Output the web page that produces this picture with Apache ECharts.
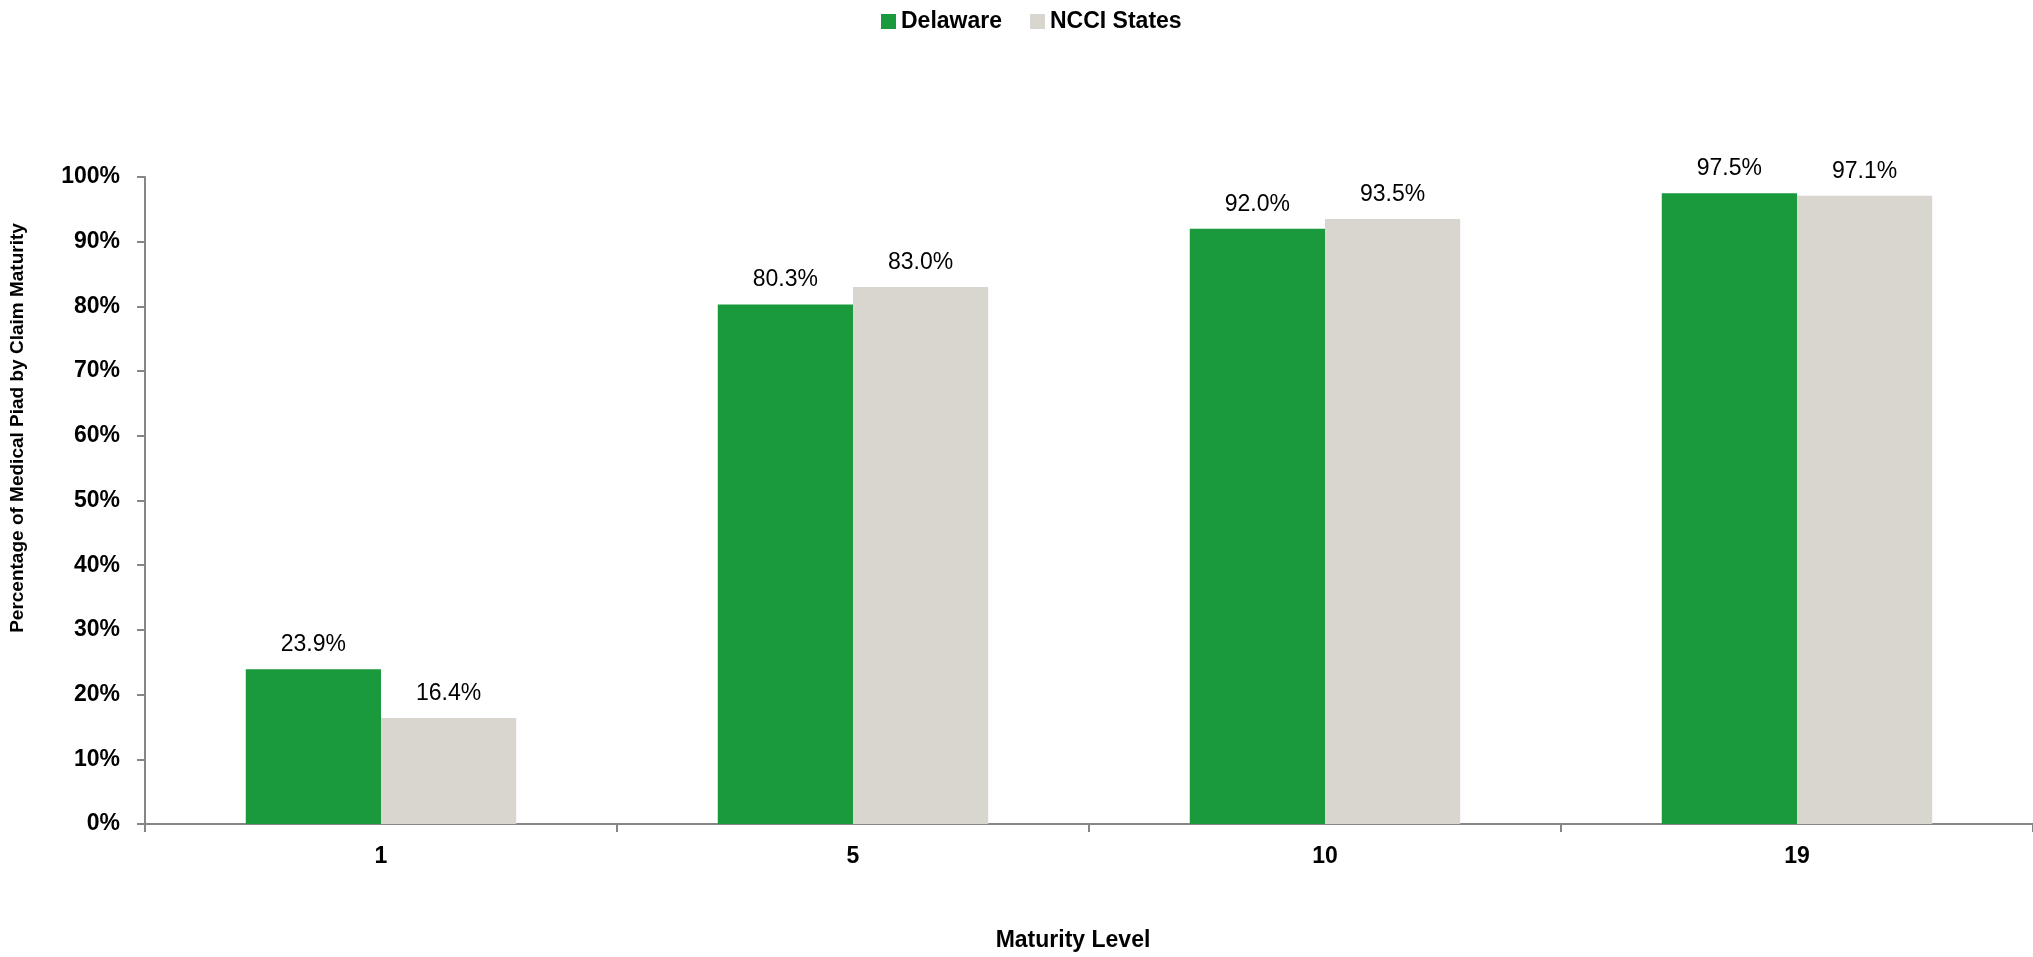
<!DOCTYPE html>
<html>
<head>
<meta charset="utf-8">
<script src="https://cdn.jsdelivr.net/npm/echarts@6/dist/echarts.min.js"></script>
<style>
html,body{margin:0;padding:0;background:#fff;}
#chart{width:2033px;height:957px;}
</style>
</head>
<body>
<div id="chart"></div>
<script>
const categories = ['1', '5', '10', '19'];
const delaware = [23.9, 80.3, 92.0, 97.5];
const nccis = [16.4, 83.0, 93.5, 97.1];
const seriesNames = ['Delaware', 'NCCI States'];
const yTicks = [0, 10, 20, 30, 40, 50, 60, 70, 80, 90, 100];

const FONT = '"Liberation Sans", Arial, sans-serif';
const chart = echarts.init(document.getElementById('chart'), null, {renderer: 'canvas'});

const labelStyle = {
  show: true,
  position: 'top',
  distance: 13,
  fontFamily: FONT,
  fontSize: 23,
  color: '#000',
  formatter: p => p.value.toFixed(1) + '%'
};

chart.setOption({
  animation: false,
  backgroundColor: '#fff',
  legend: {
    top: 5,
    left: 876,
    itemWidth: 15,
    itemHeight: 15,
    itemGap: 28,
    icon: 'rect',
    textStyle: {fontFamily: FONT, fontSize: 23, fontWeight: 'bold', color: '#000'},
    data: seriesNames
  },
  grid: {left: 145, right: -6, top: 177, bottom: 133, containLabel: false},
  xAxis: {
    type: 'category',
    data: categories,
    axisLine: {lineStyle: {color: '#868686', width: 2}},
    axisTick: {show: true, length: 8, alignWithLabel: false, lineStyle: {color: '#868686', width: 2}},
    axisLabel: {fontFamily: FONT, fontSize: 23, fontWeight: 'bold', color: '#000', margin: 21}
  },
  yAxis: {
    type: 'value',
    min: yTicks[0],
    max: yTicks[yTicks.length - 1],
    interval: 10,
    splitLine: {show: false},
    axisLine: {show: true, lineStyle: {color: '#868686', width: 2}},
    axisTick: {show: true, length: 8, lineStyle: {color: '#868686', width: 2}},
    axisLabel: {fontFamily: FONT, fontSize: 23, fontWeight: 'bold', color: '#000', margin: 25, formatter: v => v + '%'}
  },
  graphic: [
    {
      type: 'text',
      x: 18,
      y: 428,
      rotation: Math.PI / 2,
      style: {
        text: 'Percentage of Medical Piad by Claim Maturity',
        font: 'bold 19px "Liberation Sans", Arial, sans-serif',
        fill: '#000',
        align: 'center',
        verticalAlign: 'middle'
      }
    },
    {
      type: 'text',
      x: 1073,
      y: 941,
      style: {
        text: 'Maturity Level',
        font: 'bold 23px "Liberation Sans", Arial, sans-serif',
        fill: '#000',
        align: 'center',
        verticalAlign: 'middle'
      }
    }
  ],
  series: [
    {
      name: seriesNames[0],
      type: 'bar',
      data: delaware,
      barGap: '0%',
      barCategoryGap: '42.7%',
      itemStyle: {color: '#1a9a3c'},
      label: labelStyle
    },
    {
      name: seriesNames[1],
      type: 'bar',
      data: nccis,
      barGap: '0%',
      barCategoryGap: '42.7%',
      itemStyle: {color: '#d9d6cf'},
      label: labelStyle
    }
  ]
});
</script>
</body>
</html>
